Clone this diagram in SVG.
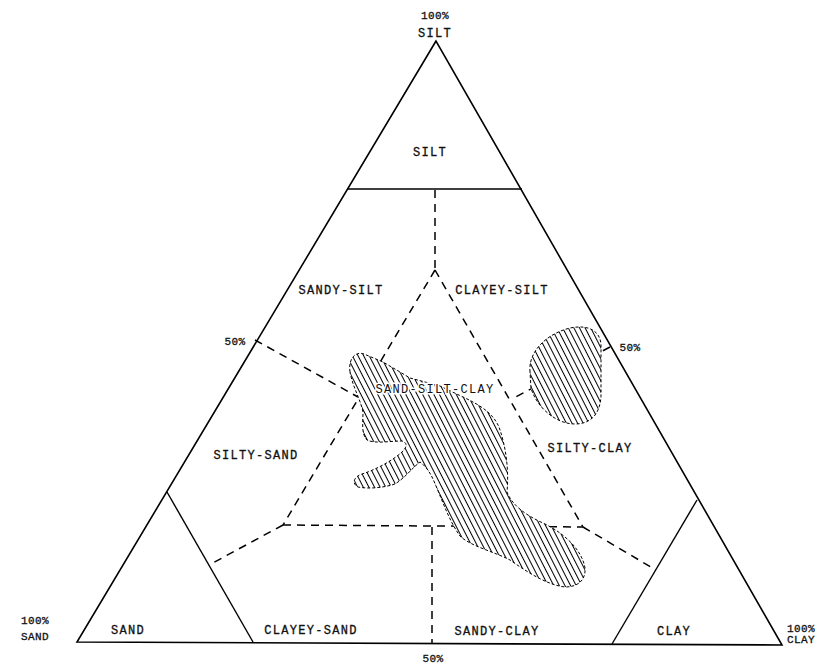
<svg xmlns="http://www.w3.org/2000/svg" width="823" height="664" viewBox="0 0 823 664">
<style>
.frame{fill:none;stroke:#000;stroke-width:1.6;stroke-linejoin:miter}
.solid{fill:none;stroke:#000;stroke-width:1.4}
.dash{fill:none;stroke:#000;stroke-width:1.5;stroke-dasharray:8 6}
.lbl{font-family:"Liberation Mono","DejaVu Sans Mono",monospace;font-size:12px;letter-spacing:1.3px;fill:#111;stroke:#111;stroke-width:0.3px;text-anchor:middle}
.sm{font-family:"Liberation Mono","DejaVu Sans Mono",monospace;font-size:11px;letter-spacing:0.4px;fill:#111;stroke:#111;stroke-width:0.3px;text-anchor:middle}
.blobbg{fill:#fff;stroke:none}
.blob{fill:url(#hatch);stroke:#000;stroke-width:1;stroke-dasharray:3 2}
.halo{paint-order:stroke;stroke:#fff;stroke-width:3px}
</style>
<defs>
<pattern id="hatch" width="5" height="10" patternUnits="userSpaceOnUse" patternTransform="rotate(-27)">
<line x1="2.5" y1="0" x2="2.5" y2="10" stroke="#000" stroke-width="1"/>
</pattern>
<path id="bigBlob" d="M350,372 C348,358 356,351 364,354 L383,362 L400,372 L410,378 L440,386 L463,397 C480,405 495,414 500,430 C506,448 509,470 507,492 C512,505 525,515 545,524 C565,534 582,550 585,568 C586,580 578,587 565,587 C548,585 530,574 510,560 C495,552 470,546 460,536 C450,522 444,505 436,486 C432,476 428,468 420,462 C412,468 405,478 395,484 C383,488 368,489 358,487 C352,484 353,477 362,474 C375,470 392,461 402,452 C407,447 408,443 402,441 C390,441 375,444 367,440 C361,434 363,422 363,412 C360,398 353,388 350,372 Z"/>
<path id="smallBlob" d="M530,372 C528,352 546,334 570,328 C590,324 601,332 601,346 L601,396 C600,415 590,424 575,424 C555,424 536,406 531,388 Z"/>
</defs>
<rect width="823" height="664" fill="#fff"/>

<g id="connectors">
<path class="dash" d="M435,190 L435,268"/>
<path class="dash" d="M435,270 L283,525"/>
<path class="dash" d="M435,270 L583,527"/>
<path class="dash" d="M283,525 L583,527"/>
<path class="dash" d="M432,527 L432,643"/>
<path class="dash" d="M283,525 L209,565"/>
<path class="dash" d="M583,527 L656,570"/>
<path class="dash" d="M255,340 L358,397"/>
<path class="dash" d="M610,347 L512,399"/>
</g>

<g id="triangle">
<path class="frame" d="M436,41 L77,642 L782,645 Z"/>
<path id="silt-boundary" class="solid" d="M347,189 L522,189"/>
<path id="sand-boundary" class="solid" d="M167,492 L253,642"/>
<path id="clay-boundary" class="solid" d="M697,500 L612,644"/>
</g>

<g id="data-fields">
<use href="#bigBlob" class="blobbg"/>
<use href="#bigBlob" class="blob"/>
<use href="#smallBlob" class="blobbg"/>
<use href="#smallBlob" class="blob"/>
</g>

<g id="labels">
<text class="sm" x="435" y="19">100%</text>
<text class="lbl" x="435" y="37">SILT</text>
<text class="lbl" x="430" y="156">SILT</text>
<text class="lbl" x="341" y="294">SANDY-SILT</text>
<text class="lbl" x="502" y="294">CLAYEY-SILT</text>
<text class="sm" x="235" y="345">50%</text>
<text class="sm" x="630" y="351">50%</text>
<text class="lbl halo" x="435" y="393">SAND-SILT-CLAY</text>
<text class="lbl" x="256" y="459">SILTY-SAND</text>
<text class="lbl" x="590" y="452">SILTY-CLAY</text>
<text class="lbl" x="128" y="634">SAND</text>
<text class="lbl" x="311" y="634">CLAYEY-SAND</text>
<text class="lbl" x="497" y="635">SANDY-CLAY</text>
<text class="lbl" x="674" y="635">CLAY</text>
<text class="sm" x="35" y="624">100%</text>
<text class="sm" x="35" y="640">SAND</text>
<text class="sm" x="801" y="632">100%</text>
<text class="sm" x="801" y="643">CLAY</text>
<text class="sm" x="433" y="662">50%</text>
</g>
</svg>
